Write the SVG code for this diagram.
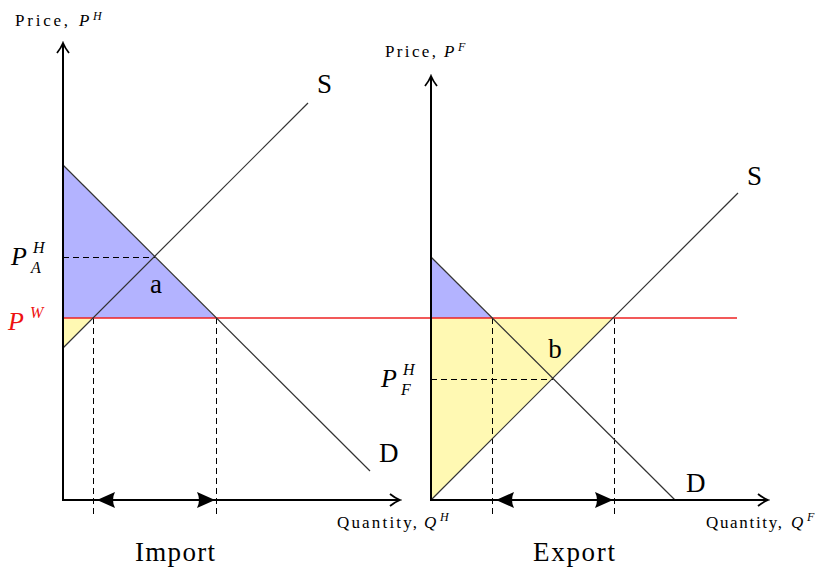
<svg xmlns="http://www.w3.org/2000/svg" width="830" height="567" viewBox="0 0 830 567">
<style>
text{font-family:"Liberation Serif","DejaVu Serif",serif;fill:#000}
.ax{stroke:#000;stroke-width:2;fill:none}
.cv{stroke:#333;stroke-width:1.2;fill:none}
.ds{stroke:#000;stroke-width:1;stroke-dasharray:6,4;fill:none}
.blue{fill:#b3b3ff}
.yel{fill:#fff9b3}
.sm{font-size:17px}
.sup{font-size:12px;font-style:italic}
.lg{font-size:27px}
.big{font-size:26px;font-style:italic}
.ss{font-size:16px;font-style:italic}
.red{fill:#ee1111}
</style>
<defs>
<marker id="open" viewBox="0 0 14 14" refX="12" refY="7" markerWidth="14" markerHeight="14" markerUnits="userSpaceOnUse" orient="auto">
<path d="M2,1 Q7,5 12,7 Q7,9 2,13" fill="none" stroke="#000" stroke-width="1.8"/>
</marker>
<marker id="fill" viewBox="0 0 18 16" refX="18" refY="8" markerWidth="18" markerHeight="16" markerUnits="userSpaceOnUse" orient="auto-start-reverse">
<path d="M0,0 L18,8 L0,16 Q4,8 0,0 Z" fill="#000"/>
</marker>
</defs>
<g id="fills">
<polygon class="blue" points="63,165 63,318 216,318"/>
<polygon class="yel" points="63,318 93,318 63,348"/>
<polygon class="blue" points="431,257 431,318 492,318"/>
<polygon class="yel" points="431,318 613,318 431,500"/>
</g>
<g id="connectors">
<line class="ds" x1="63" y1="257.5" x2="155" y2="257.5"/>
<line class="ds" x1="93.5" y1="318" x2="93.5" y2="518"/>
<line class="ds" x1="216.5" y1="318" x2="216.5" y2="518"/>
<line class="ds" x1="431" y1="379.5" x2="553" y2="379.5"/>
<line class="ds" x1="492.5" y1="318" x2="492.5" y2="518"/>
<line class="ds" x1="614.5" y1="318" x2="614.5" y2="518"/>
<line x1="63" y1="318" x2="737" y2="318" stroke="#ee2222" stroke-width="1.3"/>
<line id="D-left" class="cv" x1="63" y1="165" x2="370" y2="471"/>
<line id="S-left" class="cv" x1="63" y1="348" x2="308" y2="103"/>
<line id="D-right" class="cv" x1="431" y1="257" x2="675" y2="500"/>
<line id="S-right" class="cv" x1="431" y1="500" x2="738" y2="193"/>
<line class="ax" x1="63" y1="501" x2="63" y2="43" marker-end="url(#open)"/>
<line class="ax" x1="62" y1="500" x2="400" y2="500" marker-end="url(#open)"/>
<line class="ax" x1="431" y1="501" x2="431" y2="76" marker-end="url(#open)"/>
<line class="ax" x1="430" y1="500" x2="768" y2="500" marker-end="url(#open)"/>
<line stroke="#000" stroke-width="2" x1="97" y1="500" x2="215" y2="500" marker-start="url(#fill)" marker-end="url(#fill)"/>
<line stroke="#000" stroke-width="2" x1="496" y1="500" x2="613" y2="500" marker-start="url(#fill)" marker-end="url(#fill)"/>
</g>
<g id="labels">
<text class="sm" x="15" y="26" textLength="53" lengthAdjust="spacing">Price,</text>
<text class="sm" x="79" y="26" font-style="italic">P</text>
<text class="sup" x="93" y="20">H</text>
<text class="sm" x="385" y="57" textLength="51" lengthAdjust="spacing">Price,</text>
<text class="sm" x="444" y="57" font-style="italic">P</text>
<text class="sup" x="458" y="51">F</text>
<text class="sm" x="337" y="528" textLength="80" lengthAdjust="spacing">Quantity,</text>
<text class="sm" x="424" y="528" font-style="italic">Q</text>
<text class="sup" x="440" y="521">H</text>
<text class="sm" x="706" y="528" textLength="76" lengthAdjust="spacing">Quantity,</text>
<text class="sm" x="791" y="528" font-style="italic">Q</text>
<text class="sup" x="807" y="521">F</text>
<text class="big" x="11" y="265">P</text>
<text class="ss" x="33" y="253">H</text>
<text class="ss" x="31" y="273">A</text>
<text class="big red" x="8" y="330">P</text>
<text class="ss red" x="30" y="318">W</text>
<text class="big" x="381" y="387">P</text>
<text class="ss" x="403" y="375">H</text>
<text class="ss" x="401" y="395">F</text>
<text class="lg" x="156" y="293" text-anchor="middle">a</text>
<text class="lg" x="555" y="358" text-anchor="middle">b</text>
<text class="lg" x="317" y="93">S</text>
<text class="lg" x="747" y="185">S</text>
<text class="lg" x="379" y="462">D</text>
<text class="lg" x="686" y="492">D</text>
<text class="lg" x="135" y="561" textLength="80" lengthAdjust="spacing">Import</text>
<text class="lg" x="533" y="561" textLength="82" lengthAdjust="spacing">Export</text>
</g>
</svg>
